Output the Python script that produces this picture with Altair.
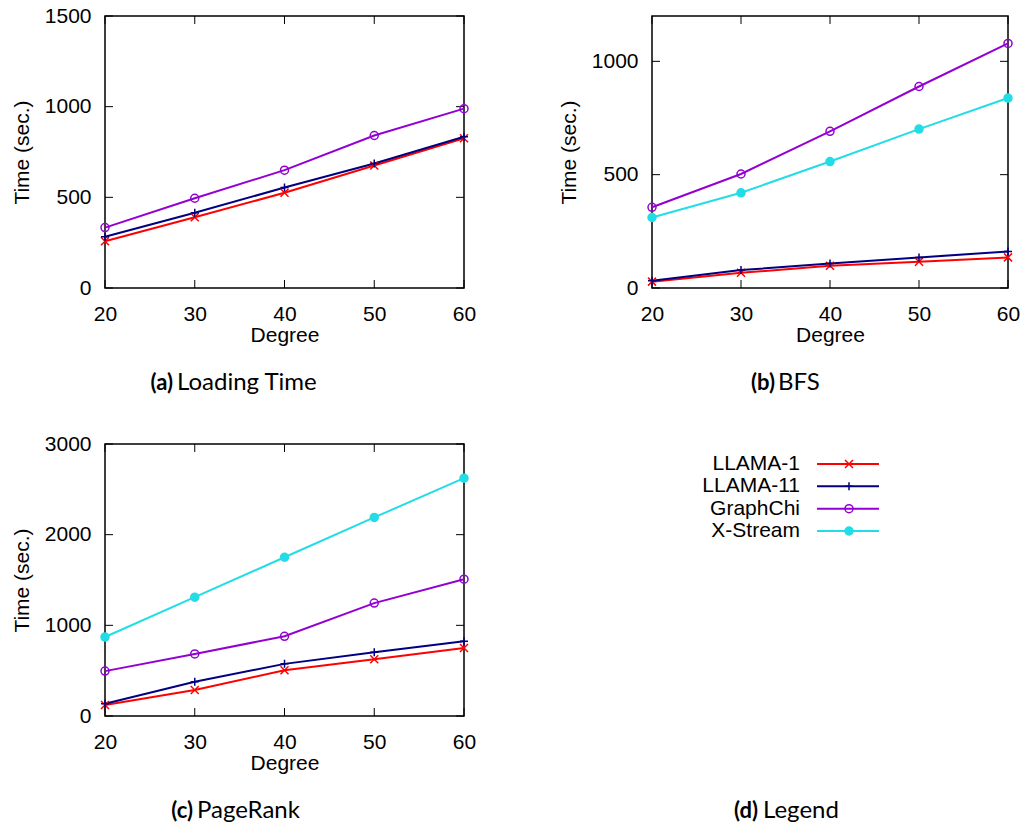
import altair as alt
import pandas as pd

degrees = [20, 30, 40, 50, 60]
series_names = ["LLAMA-1", "LLAMA-11", "GraphChi", "X-Stream"]
series_colors = ["#ff0000", "#000080", "#9400d3", "#22dde6"]
series_fills = ["transparent", "transparent", "transparent", "#22dde6"]
series_shapes = ["M-1,-1L1,1M-1,1L1,-1", "M-1,0H1M0,-1V1", "circle", "circle"]

# (a) Loading Time
load_llama1 = [258, 390, 525, 676, 826]
load_llama11 = [283, 415, 554, 687, 834]
load_graphchi = [333, 495, 650, 841, 989]
load_yticks = [0, 500, 1000, 1500]

# (b) BFS
bfs_llama1 = [28, 67, 98, 116, 135]
bfs_llama11 = [32, 79, 108, 135, 161]
bfs_graphchi = [356, 503, 691, 889, 1079]
bfs_xstream = [311, 420, 558, 701, 838]
bfs_yticks = [0, 500, 1000]

# (c) PageRank
pr_llama1 = [121, 286, 505, 626, 751]
pr_llama11 = [135, 377, 575, 703, 824]
pr_graphchi = [495, 685, 879, 1245, 1509]
pr_xstream = [871, 1311, 1751, 2190, 2623]
pr_yticks = [0, 1000, 2000, 3000]

W1, W2, H = 359, 356, 272
CAP_Y = 374

color_scale = alt.Scale(domain=series_names, range=series_colors)
fill_scale = alt.Scale(domain=series_names, range=series_fills)
shape_scale = alt.Scale(domain=series_names, range=series_shapes)


def long_df(data):
    rows = []
    for name, vals in data.items():
        for d, v in zip(degrees, vals):
            rows.append({"series": name, "degree": d, "time": v})
    return pd.DataFrame(rows)


def caption(bold, text, bold_x, text_x):
    b = alt.Chart(pd.DataFrame({"t": [bold]})).mark_text(
        font="Lato", fontSize=22, fontWeight="bold", align="right",
        baseline="alphabetic", color="black"
    ).encode(text="t:N", x=alt.value(bold_x), y=alt.value(CAP_Y))
    t = alt.Chart(pd.DataFrame({"t": [text]})).mark_text(
        font="Lato", fontSize=24, align="left",
        baseline="alphabetic", color="black"
    ).encode(text="t:N", x=alt.value(text_x), y=alt.value(CAP_Y))
    return [b, t]


def panel(data, ymax, yticks, bold, text, bold_x, text_x, W):
    df = long_df(data)
    xenc = alt.X("degree:Q",
                 scale=alt.Scale(domain=[20, 60], nice=False, zero=False),
                 axis=alt.Axis(values=degrees, title="Degree", format="d",
                               labelPadding=15, titlePadding=0))
    yenc = alt.Y("time:Q",
                 scale=alt.Scale(domain=[0, ymax], nice=False, zero=True),
                 axis=alt.Axis(values=yticks, title="Time (sec.)", format="d",
                               labelPadding=14, titlePadding=12))
    base = alt.Chart(df)
    lines = base.mark_line(strokeWidth=2).encode(
        x=xenc, y=yenc,
        color=alt.Color("series:N", scale=color_scale, legend=None))
    points = base.mark_point(size=64, strokeWidth=1.5, opacity=1).encode(
        x=xenc, y=yenc,
        shape=alt.Shape("series:N", scale=shape_scale, legend=None),
        stroke=alt.Stroke("series:N", scale=color_scale, legend=None),
        fill=alt.Fill("series:N", scale=fill_scale, legend=None))
    ydf = pd.DataFrame({"time": yticks})
    xdf = pd.DataFrame({"degree": degrees})
    yt_l = alt.Chart(ydf).mark_rule(color="black", strokeWidth=1).encode(
        y=yenc, x=alt.value(0), x2=alt.value(8))
    yt_r = alt.Chart(ydf).mark_rule(color="black", strokeWidth=1).encode(
        y=yenc, x=alt.value(W - 8), x2=alt.value(W))
    xt_b = alt.Chart(xdf).mark_rule(color="black", strokeWidth=1).encode(
        x=xenc, y=alt.value(H - 8), y2=alt.value(H))
    xt_t = alt.Chart(xdf).mark_rule(color="black", strokeWidth=1).encode(
        x=xenc, y=alt.value(0), y2=alt.value(8))
    layers = [yt_l, yt_r, xt_b, xt_t, lines, points] + caption(bold, text, bold_x, text_x)
    return alt.layer(*layers).properties(width=W, height=H)


a = panel({"LLAMA-1": load_llama1, "LLAMA-11": load_llama11, "GraphChi": load_graphchi},
          1500, load_yticks, "(a)", "Loading Time", 68, 72, W1)
b = panel({"LLAMA-1": bfs_llama1, "LLAMA-11": bfs_llama11, "GraphChi": bfs_graphchi,
           "X-Stream": bfs_xstream},
          1200, bfs_yticks, "(b)", "BFS", 123, 126, W2)
c = panel({"LLAMA-1": pr_llama1, "LLAMA-11": pr_llama11, "GraphChi": pr_graphchi,
           "X-Stream": pr_xstream},
          3000, pr_yticks, "(c)", "PageRank", 88, 92, W1)

# (d) Legend panel
ldf = pd.DataFrame({"series": series_names})
ly = alt.Y("series:N",
           scale=alt.Scale(type="point", domain=series_names, range=[20, 87], padding=0),
           axis=None)
l_text = alt.Chart(ldf).mark_text(font="Liberation Sans", fontSize=21, align="right",
                                  baseline="middle", color="black").encode(
    y=ly, text="series:N", x=alt.value(148))
l_rule = alt.Chart(ldf).mark_rule(strokeWidth=2).encode(
    y=ly, x=alt.value(165), x2=alt.value(227),
    color=alt.Color("series:N", scale=color_scale, legend=None))
l_pts = alt.Chart(ldf).mark_point(size=64, strokeWidth=1.5, opacity=1).encode(
    y=ly, x=alt.value(197),
    shape=alt.Shape("series:N", scale=shape_scale, legend=None),
    stroke=alt.Stroke("series:N", scale=color_scale, legend=None),
    fill=alt.Fill("series:N", scale=fill_scale, legend=None))
d = alt.layer(l_rule, l_pts, l_text, *caption("(d)", "Legend", 106, 111)).properties(
    width=W2, height=H, view=alt.ViewBackground(stroke="transparent"))

chart = alt.concat(
    a, b, c, d, columns=2,
    spacing={"row": 156, "column": 188}, bounds="flush"
).properties(
    autosize=alt.AutoSizeParams(type="none"),
    padding={"left": 97, "top": 8, "right": 916, "bottom": 807}
).configure_view(
    stroke="black", strokeWidth=1.5
).configure_axis(
    domain=False, ticks=False, tickSize=0, grid=False,
    labelFont="Liberation Sans", labelFontSize=21, labelColor="black",
    titleFont="Liberation Sans", titleFontSize=21, titleFontWeight="normal",
    titleColor="black", labelFlush=False, labelOverlap=False
)

chart.save("out.html", embed_options={"renderer": "svg", "actions": False})
